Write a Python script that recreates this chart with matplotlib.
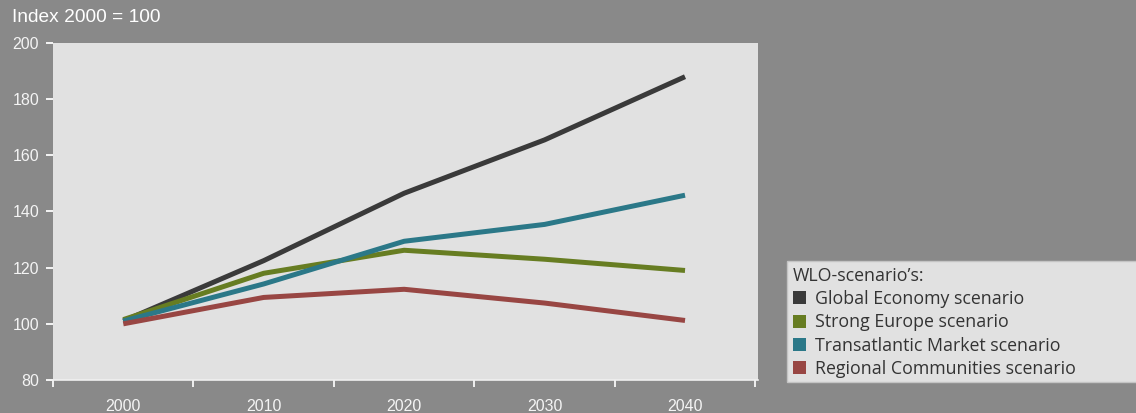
import matplotlib.pyplot as plt
from matplotlib.patches import Patch, Rectangle

years = ['2000', '2010', '2020', '2030', '2040']
global_economy = [101, 122.5, 146.5, 165.5, 188]
strong_europe = [101.5, 118, 126.2, 123, 119]
transatlantic = [101, 114.2, 129.4, 135.4, 145.8]
regional = [100, 109.4, 112.3, 107.4, 101.2]

names = ['Global Economy scenario', 'Strong Europe scenario',
         'Transatlantic Market scenario', 'Regional Communities scenario']
colors = ['#3a3a3a', '#677d22', '#2b7888', '#984643']

BG = '#898989'
PANEL = '#e1e1e1'
W, H = 1136, 413

plt.rcParams['font.family'] = ['Liberation Sans', 'DejaVu Sans']

fig = plt.figure(figsize=(W / 100, H / 100), dpi=100, facecolor=BG)
ax = fig.add_axes([0.0467, 0.0799, 0.6206, 0.816])
ax.set_facecolor(PANEL)

x = range(len(years))
for series, c in zip([global_economy, strong_europe, transatlantic, regional], colors):
    ax.plot(x, series, color=c, lw=3.6, solid_capstyle='butt')

ax.set_xlim(-0.5, 4.52)
ax.set_ylim(80, 200)
ax.set_yticks(range(80, 201, 20))
ax.set_xticks(list(x))
ax.set_xticklabels(years)
ax.set_xticks([i - 0.5 for i in range(6)], minor=True)

for s in ['top', 'right', 'left']:
    ax.spines[s].set_visible(False)
ax.spines['bottom'].set_color('#f0f0f0')
ax.spines['bottom'].set_linewidth(1.2)

ax.tick_params(axis='y', colors='#f4f4f4', length=5, width=1.4, labelsize=11.5, pad=5)
ax.tick_params(axis='x', which='major', length=0, colors='#f4f4f4', labelsize=11.5, pad=14)
ax.tick_params(axis='x', which='minor', length=5, width=1.4, colors='#f0f0f0')

fig.text(12 / W, 1 - 18 / H, 'Index 2000 = 100', color='white', fontsize=13.8, va='center')

# legend panel runs off the right edge
fig.patches.append(Rectangle((787 / W, 31 / H), 0.4, 121 / H,
                             transform=fig.transFigure, facecolor=PANEL,
                             edgecolor='#c4c4c4', lw=1, zorder=0))

handles = [Patch(facecolor=c, edgecolor='none') for c in colors]
font = {'family': ['Open Sans', 'DejaVu Sans'], 'size': 12.8}
leg = fig.legend(handles, names, title='WLO-scenario\u2019s:', loc='upper left',
                 bbox_to_anchor=(789 / W, 1 - 263 / H), bbox_transform=fig.transFigure,
                 frameon=False, handlelength=0.75, handleheight=0.75, handletextpad=0.5,
                 labelspacing=0.3, borderpad=0.2, borderaxespad=0,
                 prop=font, title_fontproperties=font)
leg._legend_box.align = 'left'
for t in leg.get_texts():
    t.set_color('#333333')
leg.get_title().set_color('#333333')

fig.savefig('out.png', dpi=100, facecolor=BG)
